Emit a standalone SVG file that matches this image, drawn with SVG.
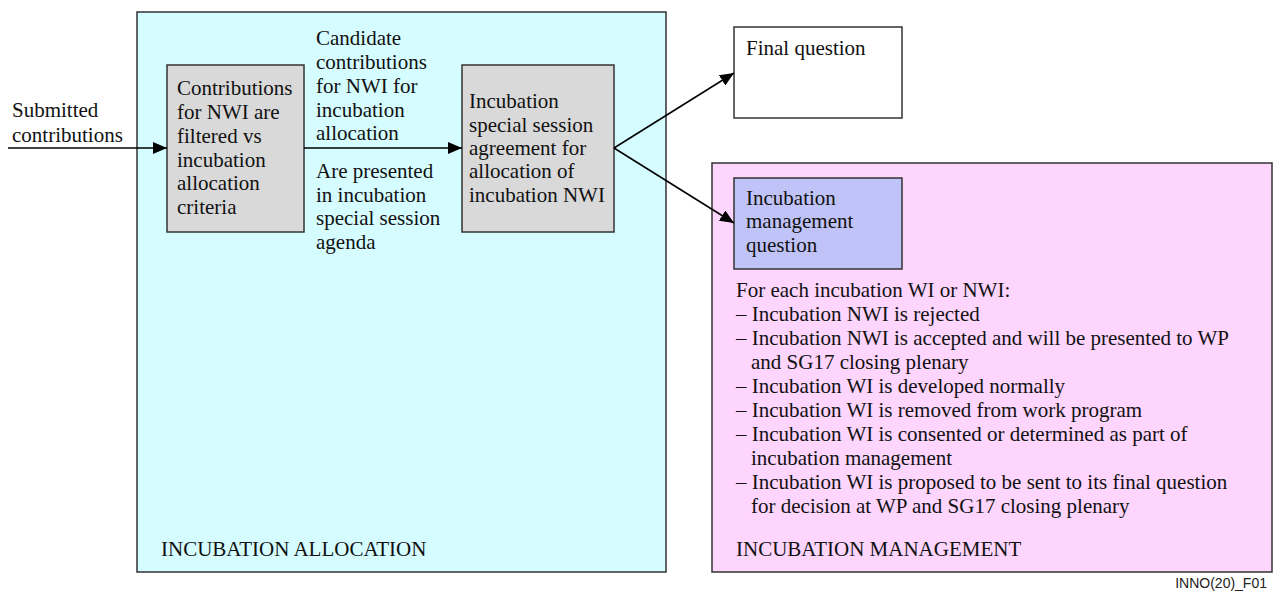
<svg xmlns="http://www.w3.org/2000/svg" width="1273" height="594" viewBox="0 0 1273 594">
<style>
.t{font-family:"Liberation Serif","Times New Roman",serif;font-size:21px;fill:#111}
.box{stroke:#333;stroke-width:1.5}
.c{stroke:#000;stroke-width:1.5;fill:none}
</style>
<defs>
<marker id="ah" markerWidth="14" markerHeight="12" refX="14" refY="6" orient="auto" markerUnits="userSpaceOnUse">
<path d="M0,0 L14,6 L0,12 Z" fill="#000"/>
</marker>
</defs>
<rect width="1273" height="594" fill="#fff"/>
<g id="incubation-allocation">
<rect class="box" x="137" y="12" width="529" height="560" fill="#D5FCFF"/>
<text class="t" x="161" y="556">INCUBATION ALLOCATION</text>
</g>
<g id="incubation-management">
<rect class="box" x="712" y="163" width="560" height="409" fill="#FDD5FD"/>
<text class="t" x="736" y="297">For each incubation WI or NWI:</text>
<text class="t" x="736" y="321">– Incubation NWI is rejected</text>
<text class="t" x="736" y="345">– Incubation NWI is accepted and will be presented to WP</text>
<text class="t" x="751" y="369">and SG17 closing plenary</text>
<text class="t" x="736" y="393">– Incubation WI is developed normally</text>
<text class="t" x="736" y="417">– Incubation WI is removed from work program</text>
<text class="t" x="736" y="441">– Incubation WI is consented or determined as part of</text>
<text class="t" x="751" y="465">incubation management</text>
<text class="t" x="736" y="489">– Incubation WI is proposed to be sent to its final question</text>
<text class="t" x="751" y="513">for decision at WP and SG17 closing plenary</text>
<text class="t" x="736" y="556">INCUBATION MANAGEMENT</text>
</g>
<g id="filter">
<rect class="box" x="167" y="65" width="137" height="167" fill="#D9D9D9"/>
<text class="t" x="177" y="95">Contributions</text>
<text class="t" x="177" y="119">for NWI are</text>
<text class="t" x="177" y="143">filtered vs</text>
<text class="t" x="177" y="167">incubation</text>
<text class="t" x="177" y="190">allocation</text>
<text class="t" x="177" y="214">criteria</text>
</g>
<g id="agreement">
<rect class="box" x="462" y="65" width="152" height="167" fill="#D9D9D9"/>
<text class="t" x="469" y="108">Incubation</text>
<text class="t" x="469" y="132">special session</text>
<text class="t" x="469" y="155">agreement for</text>
<text class="t" x="469" y="178">allocation of</text>
<text class="t" x="469" y="202">incubation NWI</text>
</g>
<g id="final-question">
<rect class="box" x="734" y="27" width="168" height="91" fill="#fff"/>
<text class="t" x="746" y="55">Final question</text>
</g>
<g id="management-question">
<rect class="box" x="734" y="178" width="168" height="91" fill="#C0C3F8"/>
<text class="t" x="746" y="205">Incubation</text>
<text class="t" x="746" y="228">management</text>
<text class="t" x="746" y="252">question</text>
</g>
<g id="connectors">
<line class="c" x1="8" y1="148" x2="167" y2="148" marker-end="url(#ah)"/>
<line class="c" x1="304" y1="148" x2="462" y2="148" marker-end="url(#ah)"/>
<line class="c" x1="614" y1="148" x2="734" y2="73" marker-end="url(#ah)"/>
<line class="c" x1="614" y1="148" x2="734" y2="223" marker-end="url(#ah)"/>
</g>
<g id="labels">
<text class="t" x="12" y="117">Submitted</text>
<text class="t" x="12" y="142">contributions</text>
<text class="t" x="316" y="45">Candidate</text>
<text class="t" x="316" y="69">contributions</text>
<text class="t" x="316" y="93">for NWI for</text>
<text class="t" x="316" y="117">incubation</text>
<text class="t" x="316" y="140">allocation</text>
<text class="t" x="316" y="178">Are presented</text>
<text class="t" x="316" y="202">in incubation</text>
<text class="t" x="316" y="225">special session</text>
<text class="t" x="316" y="249">agenda</text>
<text x="1267" y="588" text-anchor="end" style="font-family:'Liberation Sans',Arial,sans-serif;font-size:14px;fill:#222">INNO(20)_F01</text>
</g>
</svg>
